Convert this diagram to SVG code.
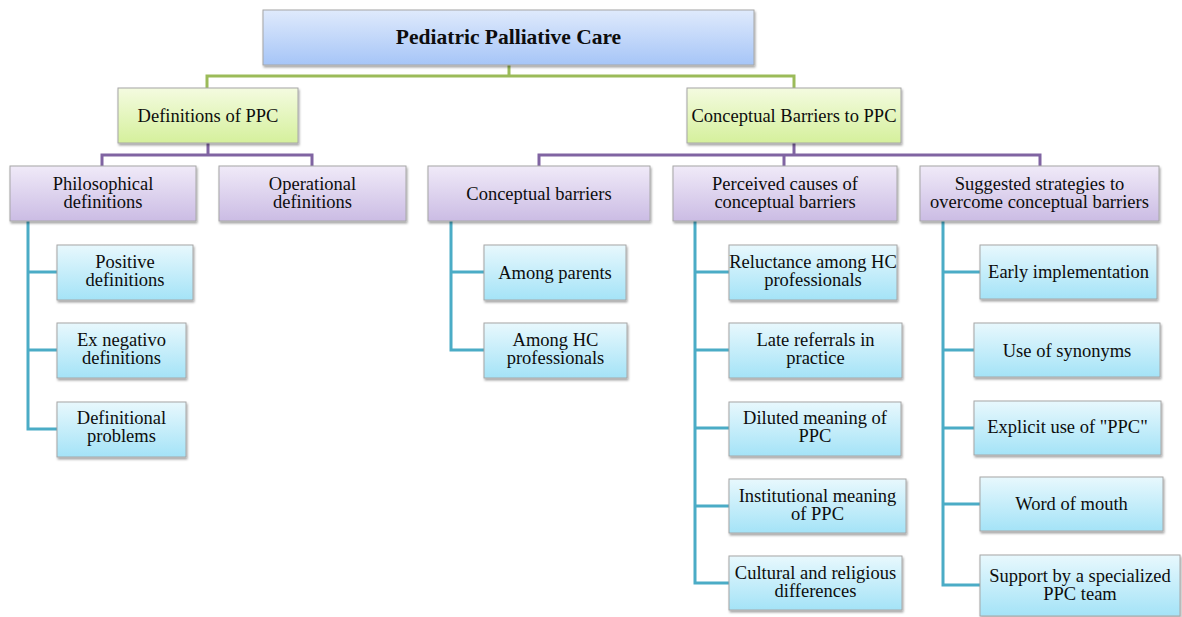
<svg xmlns="http://www.w3.org/2000/svg" width="1182" height="617" viewBox="0 0 1182 617">
<defs>
<linearGradient id="gBlue" x1="0" y1="0" x2="0" y2="1"><stop offset="0" stop-color="#dfeafc"/><stop offset="1" stop-color="#a6c5f7"/></linearGradient>
<linearGradient id="gGreen" x1="0" y1="0" x2="0" y2="1"><stop offset="0" stop-color="#f4fbe0"/><stop offset="1" stop-color="#d5f09c"/></linearGradient>
<linearGradient id="gPurple" x1="0" y1="0" x2="0" y2="1"><stop offset="0" stop-color="#f0eaf8"/><stop offset="1" stop-color="#cbbce4"/></linearGradient>
<linearGradient id="gCyan" x1="0" y1="0" x2="0" y2="1"><stop offset="0" stop-color="#e8f8fd"/><stop offset="1" stop-color="#a4e3f7"/></linearGradient>
<filter id="sh" x="-10%" y="-10%" width="120%" height="130%"><feDropShadow dx="1" dy="2" stdDeviation="1.2" flood-color="#000" flood-opacity="0.35"/></filter>
</defs>
<style>
rect{stroke:#a6a6a6;stroke-width:1;filter:url(#sh)}
.b{fill:url(#gBlue)}
.g{fill:url(#gGreen)}
.p{fill:url(#gPurple)}
.c{fill:url(#gCyan)}
text{font-family:"Liberation Serif","DejaVu Serif",serif;font-size:18.5px;fill:#0d0d0d;text-anchor:middle}
.t{font-weight:bold;font-size:21.5px}
.con path{fill:none;stroke-width:3}
.lg{stroke:#9bbb59}
.lp{stroke:#8064a2}
.lc{stroke:#4bacc6}
</style>
<g class="con" id="connectors">
<path class="lg" d="M207,88 V76 H794 V88 M509,65 V76"/>
<path class="lp" d="M102,167 V155 H312 V167 M208,143 V155"/>
<path class="lp" d="M539,167 V155 H1040 V167 M784,155 V167 M794,143 V155"/>
<path class="lc" d="M28,221 V429 H57 M28,272 H57 M28,350 H57"/>
<path class="lc" d="M451,221 V350 H484 M451,272 H484"/>
<path class="lc" d="M695,221 V583 H729 M695,272 H729 M695,350 H729 M695,428 H729 M695,506 H729"/>
<path class="lc" d="M943,221 V585 H980 M943,272 H980 M943,350 H974 M943,428 H974 M943,504 H980"/>
</g>
<g id="root"><rect class="b" x="263" y="10" width="491" height="55"/><text class="t" x="508.5" y="44">Pediatric Palliative Care</text></g>
<g id="defs"><rect class="g" x="118" y="88" width="180" height="55"/><text x="208" y="121.5">Definitions of PPC</text></g>
<g id="barriers"><rect class="g" x="687" y="88" width="214" height="55"/><text x="794" y="121.5">Conceptual Barriers to PPC</text></g>
<g id="philosophical"><rect class="p" x="10" y="166" width="186" height="55"/><text x="103" y="190">Philosophical</text><text x="103" y="208">definitions</text></g>
<g id="operational"><rect class="p" x="219" y="166" width="187" height="55"/><text x="312.5" y="190">Operational</text><text x="312.5" y="208">definitions</text></g>
<g id="conceptual"><rect class="p" x="428" y="166" width="222" height="55"/><text x="539" y="199.5">Conceptual barriers</text></g>
<g id="perceived"><rect class="p" x="673" y="166" width="224" height="55"/><text x="785" y="190">Perceived causes of</text><text x="785" y="208">conceptual barriers</text></g>
<g id="suggested"><rect class="p" x="920" y="166" width="239" height="55"/><text x="1039.5" y="190">Suggested strategies to</text><text x="1039.5" y="208">overcome conceptual barriers</text></g>
<g id="positive"><rect class="c" x="57" y="245" width="136" height="55"/><text x="125" y="268">Positive</text><text x="125" y="286">definitions</text></g>
<g id="exneg"><rect class="c" x="57" y="323" width="129" height="55"/><text x="121.5" y="346">Ex negativo</text><text x="121.5" y="364">definitions</text></g>
<g id="defprob"><rect class="c" x="57" y="402" width="129" height="55"/><text x="121.5" y="424">Definitional</text><text x="121.5" y="442">problems</text></g>
<g id="parents"><rect class="c" x="484" y="245" width="142" height="55"/><text x="555" y="278.5">Among parents</text></g>
<g id="amonghc"><rect class="c" x="484" y="323" width="143" height="55"/><text x="555.5" y="346">Among HC</text><text x="555.5" y="364">professionals</text></g>
<g id="reluctance"><rect class="c" x="729" y="245" width="168" height="55"/><text x="813" y="268">Reluctance among HC</text><text x="813" y="286">professionals</text></g>
<g id="late"><rect class="c" x="729" y="323" width="173" height="55"/><text x="815.5" y="346">Late referrals in</text><text x="815.5" y="364">practice</text></g>
<g id="diluted"><rect class="c" x="729" y="402" width="172" height="54"/><text x="815" y="424">Diluted meaning of</text><text x="815" y="442">PPC</text></g>
<g id="institutional"><rect class="c" x="729" y="479" width="177" height="54"/><text x="817.5" y="502">Institutional  meaning</text><text x="817.5" y="520">of PPC</text></g>
<g id="cultural"><rect class="c" x="729" y="556" width="173" height="54"/><text x="815.5" y="579">Cultural and religious</text><text x="815.5" y="597">differences</text></g>
<g id="early"><rect class="c" x="980" y="245" width="177" height="54"/><text x="1068.5" y="278">Early implementation</text></g>
<g id="synonyms"><rect class="c" x="974" y="323" width="186" height="54"/><text x="1067" y="356.5">Use of synonyms</text></g>
<g id="explicit"><rect class="c" x="974" y="401" width="187" height="54"/><text x="1067.5" y="433">Explicit use of "PPC"</text></g>
<g id="word"><rect class="c" x="980" y="477" width="183" height="54"/><text x="1071.5" y="509.5">Word of mouth</text></g>
<g id="support"><rect class="c" x="980" y="555" width="200" height="61"/><text x="1080" y="582">Support by a specialized</text><text x="1080" y="600">PPC team</text></g>
</svg>
